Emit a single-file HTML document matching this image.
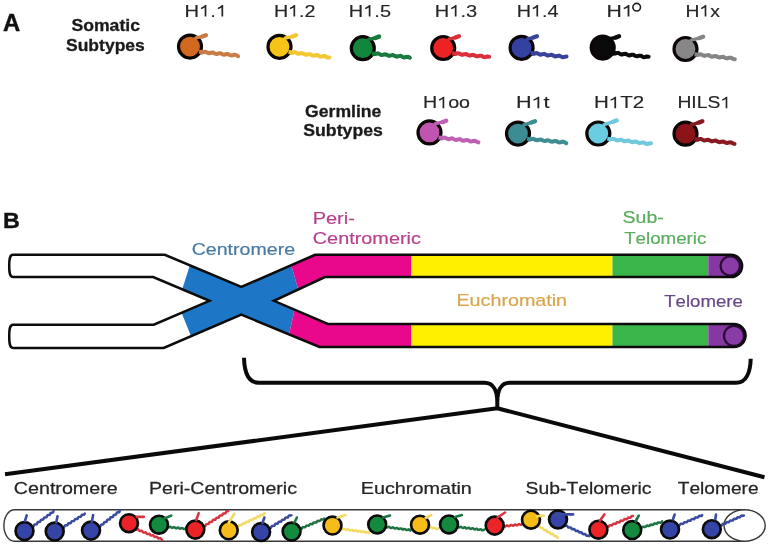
<!DOCTYPE html><html><head><meta charset="utf-8"><style>html,body{margin:0;padding:0;background:#fff;width:768px;height:545px;overflow:hidden}svg{display:block;font-family:"Liberation Sans", sans-serif;font-kerning:none;filter:blur(0.4px)}</style></head><body>
<svg width="768" height="545" viewBox="0 0 768 545">
<rect width="768" height="545" fill="#fff"/>
<g transform="translate(3.01,31.2) scale(1.0369,1)" font-size="23" font-weight="bold" fill="#111" stroke="#111" stroke-width="0.4" stroke-linejoin="round"><text x="0" y="0">A</text></g>
<g transform="translate(71.39,30.9) scale(1.0377,1)" font-size="17" font-weight="bold" fill="#1a1a1a" stroke="#1a1a1a" stroke-width="0.3" stroke-linejoin="round"><text x="0" y="0">Somatic</text></g>
<g transform="translate(65.99,50.7) scale(1.0315,1)" font-size="17" font-weight="bold" fill="#1a1a1a" stroke="#1a1a1a" stroke-width="0.3" stroke-linejoin="round"><text x="0" y="0">Subtypes</text></g>
<g transform="translate(305.08,116.6) scale(1.0371,1)" font-size="17" font-weight="bold" fill="#1a1a1a" stroke="#1a1a1a" stroke-width="0.3" stroke-linejoin="round"><text x="0" y="0">Germline</text></g>
<g transform="translate(303.19,136.1) scale(1.0421,1)" font-size="17" font-weight="bold" fill="#1a1a1a" stroke="#1a1a1a" stroke-width="0.3" stroke-linejoin="round"><text x="0" y="0">Subtypes</text></g>
<g transform="translate(184.54,16.6) scale(1.2087,1)" font-size="16.7" font-weight="normal" fill="#252525" stroke="#252525" stroke-width="0.15" stroke-linejoin="round"><text x="0" y="0">H</text><path transform="translate(12.06,0) scale(0.00815,-0.00815)" d="M 735 0 L 560 0 L 560 1130 Q 420 1010 190 915 L 190 1085 Q 450 1195 610 1409 L 735 1409 Z"/><text x="21.35" y="0">.</text><path transform="translate(25.99,0) scale(0.00815,-0.00815)" d="M 735 0 L 560 0 L 560 1130 Q 420 1010 190 915 L 190 1085 Q 450 1195 610 1409 L 735 1409 Z"/></g>
<g transform="translate(273.88,16.6) scale(1.1795,1)" font-size="16.7" font-weight="normal" fill="#252525" stroke="#252525" stroke-width="0.15" stroke-linejoin="round"><text x="0" y="0">H</text><path transform="translate(12.06,0) scale(0.00815,-0.00815)" d="M 735 0 L 560 0 L 560 1130 Q 420 1010 190 915 L 190 1085 Q 450 1195 610 1409 L 735 1409 Z"/><text x="21.35" y="0">.2</text></g>
<g transform="translate(348.86,16.6) scale(1.1956,1)" font-size="16.7" font-weight="normal" fill="#252525" stroke="#252525" stroke-width="0.15" stroke-linejoin="round"><text x="0" y="0">H</text><path transform="translate(12.06,0) scale(0.00815,-0.00815)" d="M 735 0 L 560 0 L 560 1130 Q 420 1010 190 915 L 190 1085 Q 450 1195 610 1409 L 735 1409 Z"/><text x="21.35" y="0">.5</text></g>
<g transform="translate(434.86,16.6) scale(1.1998,1)" font-size="16.7" font-weight="normal" fill="#252525" stroke="#252525" stroke-width="0.15" stroke-linejoin="round"><text x="0" y="0">H</text><path transform="translate(12.06,0) scale(0.00815,-0.00815)" d="M 735 0 L 560 0 L 560 1130 Q 420 1010 190 915 L 190 1085 Q 450 1195 610 1409 L 735 1409 Z"/><text x="21.35" y="0">.3</text></g>
<g transform="translate(516.67,16.6) scale(1.1880,1)" font-size="16.7" font-weight="normal" fill="#252525" stroke="#252525" stroke-width="0.15" stroke-linejoin="round"><text x="0" y="0">H</text><path transform="translate(12.06,0) scale(0.00815,-0.00815)" d="M 735 0 L 560 0 L 560 1130 Q 420 1010 190 915 L 190 1085 Q 450 1195 610 1409 L 735 1409 Z"/><text x="21.35" y="0">.4</text></g>
<g transform="translate(606.46,16.6) scale(1.2707,1)" font-size="16.7" font-weight="normal" fill="#252525" stroke="#252525" stroke-width="0.15" stroke-linejoin="round"><text x="0" y="0">H</text><path transform="translate(12.06,0) scale(0.00815,-0.00815)" d="M 735 0 L 560 0 L 560 1130 Q 420 1010 190 915 L 190 1085 Q 450 1195 610 1409 L 735 1409 Z"/></g>
<circle cx="636.7" cy="7.2" r="3.8" fill="none" stroke="#1e1e1e" stroke-width="1.6"/>
<g transform="translate(685.41,16.6) scale(1.1581,1)" font-size="16.7" font-weight="normal" fill="#252525" stroke="#252525" stroke-width="0.15" stroke-linejoin="round"><text x="0" y="0">H</text><path transform="translate(12.06,0) scale(0.00815,-0.00815)" d="M 735 0 L 560 0 L 560 1130 Q 420 1010 190 915 L 190 1085 Q 450 1195 610 1409 L 735 1409 Z"/><text x="21.35" y="0">x</text></g>
<g transform="translate(422.99,108.2) scale(1.1783,1)" font-size="16.7" font-weight="normal" fill="#252525" stroke="#252525" stroke-width="0.15" stroke-linejoin="round"><text x="0" y="0">H</text><path transform="translate(12.06,0) scale(0.00815,-0.00815)" d="M 735 0 L 560 0 L 560 1130 Q 420 1010 190 915 L 190 1085 Q 450 1195 610 1409 L 735 1409 Z"/><text x="21.35" y="0">oo</text></g>
<g transform="translate(515.93,108.2) scale(1.2941,1)" font-size="16.7" font-weight="normal" fill="#252525" stroke="#252525" stroke-width="0.15" stroke-linejoin="round"><text x="0" y="0">H</text><path transform="translate(12.06,0) scale(0.00815,-0.00815)" d="M 735 0 L 560 0 L 560 1130 Q 420 1010 190 915 L 190 1085 Q 450 1195 610 1409 L 735 1409 Z"/><text x="21.35" y="0">t</text></g>
<g transform="translate(593.92,108.2) scale(1.2297,1)" font-size="16.7" font-weight="normal" fill="#252525" stroke="#252525" stroke-width="0.15" stroke-linejoin="round"><text x="0" y="0">H</text><path transform="translate(12.06,0) scale(0.00815,-0.00815)" d="M 735 0 L 560 0 L 560 1130 Q 420 1010 190 915 L 190 1085 Q 450 1195 610 1409 L 735 1409 Z"/><text x="21.35" y="0">T2</text></g>
<g transform="translate(677.42,108.2) scale(1.1569,1)" font-size="16.7" font-weight="normal" fill="#252525" stroke="#252525" stroke-width="0.15" stroke-linejoin="round"><text x="0" y="0">HILS</text><path transform="translate(37.13,0) scale(0.00815,-0.00815)" d="M 735 0 L 560 0 L 560 1130 Q 420 1010 190 915 L 190 1085 Q 450 1195 610 1409 L 735 1409 Z"/></g>
<polyline points="199.5,51.8 201.37,52.64 203.38,52.11 205.37,51.73 207.23,52.71 209.11,53.37 211.13,52.72 213.1,52.54 214.95,53.61 216.86,54.07 218.88,53.35 220.84,53.37 222.68,54.5 224.61,54.74 226.64,53.99 228.57,54.23 230.41,55.36 232.36,55.39 234.38,54.66 236.29,55.12 238.14,56.19" fill="none" stroke="#c97c45" stroke-width="4" stroke-linecap="round" stroke-linejoin="round"/>
<circle cx="190" cy="46.6" r="11.5" fill="#d2691f" stroke="#0d0606" stroke-width="3.2"/>
<line x1="195.8" y1="37.8" x2="201.9" y2="36.6" stroke="#c97c45" stroke-width="3.4" stroke-linecap="round"/>
<line x1="202.3" y1="36.5" x2="205.9" y2="35.2" stroke="#c97c45" stroke-width="4.4" stroke-linecap="round"/>
<line x1="199" y1="51.8" x2="203.5" y2="52.3" stroke="#c97c45" stroke-width="4" stroke-linecap="butt"/>
<polyline points="289,52 290.84,52.89 292.85,52.43 294.84,52.11 296.66,53.12 298.51,53.86 300.54,53.29 302.51,53.13 304.32,54.23 306.2,54.81 308.23,54.17 310.18,54.18 311.98,55.34 313.88,55.73 315.92,55.05 317.85,55.24 319.64,56.43 321.57,56.63 323.61,55.95 325.51,56.33 327.31,57.5 329.26,57.52" fill="none" stroke="#f2c832" stroke-width="4" stroke-linecap="round" stroke-linejoin="round"/>
<circle cx="279.5" cy="46.8" r="11.5" fill="#f6c316" stroke="#0d0606" stroke-width="3.2"/>
<line x1="285.3" y1="38" x2="292" y2="36.6" stroke="#f2c832" stroke-width="3.4" stroke-linecap="round"/>
<line x1="292.4" y1="36.5" x2="296" y2="35.2" stroke="#f2c832" stroke-width="4.4" stroke-linecap="round"/>
<line x1="288.5" y1="52" x2="293" y2="52.5" stroke="#f2c832" stroke-width="4" stroke-linecap="butt"/>
<polyline points="372.3,53.4 374.11,54.25 376.06,53.79 378.01,53.37 379.82,54.25 381.63,55.07 383.59,54.58 385.53,54.19 387.33,55.11 389.15,55.89 391.11,55.36 393.05,55.02 394.85,55.96 396.67,56.7 398.63,56.15 400.57,55.84 402.36,56.82 404.19,57.51 406.16,56.93 408.09,56.67 409.88,57.67" fill="none" stroke="#1a7a3e" stroke-width="4" stroke-linecap="round" stroke-linejoin="round"/>
<circle cx="362.8" cy="48.2" r="11.5" fill="#12873b" stroke="#0d0606" stroke-width="3.2"/>
<line x1="368.6" y1="39.4" x2="375.1" y2="38" stroke="#1a7a3e" stroke-width="3.4" stroke-linecap="round"/>
<line x1="375.5" y1="37.9" x2="379.1" y2="36.6" stroke="#1a7a3e" stroke-width="4.4" stroke-linecap="round"/>
<line x1="371.8" y1="53.4" x2="376.3" y2="53.9" stroke="#1a7a3e" stroke-width="4" stroke-linecap="butt"/>
<polyline points="452.7,53.2 454.55,54.05 456.54,53.55 458.52,53.17 460.35,54.13 462.21,54.86 464.21,54.27 466.18,54.02 468,55.06 469.88,55.65 471.89,54.98 473.84,54.88 475.66,55.98 477.55,56.41 479.56,55.71 481.49,55.76 483.31,56.9 485.22,57.17 487.23,56.44 489.15,56.66" fill="none" stroke="#d9303a" stroke-width="4" stroke-linecap="round" stroke-linejoin="round"/>
<circle cx="443.2" cy="48" r="11.5" fill="#ec2224" stroke="#0d0606" stroke-width="3.2"/>
<line x1="449" y1="39.2" x2="454.9" y2="37.6" stroke="#d9303a" stroke-width="3.4" stroke-linecap="round"/>
<line x1="455.3" y1="37.5" x2="458.9" y2="36.2" stroke="#d9303a" stroke-width="4.4" stroke-linecap="round"/>
<line x1="452.2" y1="53.2" x2="456.7" y2="53.7" stroke="#d9303a" stroke-width="4" stroke-linecap="butt"/>
<polyline points="531.1,53 532.89,53.86 534.83,53.43 536.76,53 538.55,53.86 540.34,54.72 542.28,54.29 544.22,53.86 546,54.73 547.79,55.59 549.73,55.15 551.67,54.73 553.46,55.59 555.25,56.45 557.18,56.02 559.12,55.59 560.91,56.46 562.7,57.31 564.64,56.88 566.57,56.45" fill="none" stroke="#3a439a" stroke-width="4" stroke-linecap="round" stroke-linejoin="round"/>
<circle cx="521.6" cy="47.8" r="11.5" fill="#3342a0" stroke="#0d0606" stroke-width="3.2"/>
<line x1="527.4" y1="39" x2="532.9" y2="37.6" stroke="#3a439a" stroke-width="3.4" stroke-linecap="round"/>
<line x1="533.3" y1="37.5" x2="536.9" y2="36.2" stroke="#3a439a" stroke-width="4.4" stroke-linecap="round"/>
<line x1="530.6" y1="53" x2="535.1" y2="53.5" stroke="#3a439a" stroke-width="4" stroke-linecap="butt"/>
<polyline points="612.2,52.8 614.04,53.68 616.04,53.2 618.02,52.86 619.85,53.84 621.7,54.59 623.72,54.01 625.68,53.81 627.5,54.88 629.37,55.48 631.39,54.83 633.34,54.78 635.15,55.92 637.04,56.34 639.07,55.66 641,55.78 642.8,56.94 644.71,57.2 646.74,56.49 648.65,56.78" fill="none" stroke="#0a0a0a" stroke-width="4" stroke-linecap="round" stroke-linejoin="round"/>
<circle cx="602.7" cy="47.6" r="11.5" fill="#0a0a0a" stroke="#0d0606" stroke-width="3.2"/>
<line x1="608.5" y1="38.8" x2="615" y2="37.7" stroke="#0a0a0a" stroke-width="3.4" stroke-linecap="round"/>
<line x1="615.4" y1="37.6" x2="619" y2="36.3" stroke="#0a0a0a" stroke-width="4.4" stroke-linecap="round"/>
<line x1="611.7" y1="52.8" x2="616.2" y2="53.3" stroke="#0a0a0a" stroke-width="4" stroke-linecap="butt"/>
<polyline points="695,54.2 696.83,55.06 698.8,54.59 700.77,54.2 702.59,55.14 704.43,55.91 706.41,55.37 708.37,55.07 710.18,56.07 712.03,56.75 714.02,56.15 715.97,55.95 717.77,57.01 719.63,57.58 721.63,56.93 723.57,56.84 725.37,57.94 727.24,58.4 729.24,57.71 731.16,57.73 732.96,58.86 734.84,59.21" fill="none" stroke="#858585" stroke-width="4" stroke-linecap="round" stroke-linejoin="round"/>
<circle cx="685.5" cy="49" r="11.5" fill="#878787" stroke="#0d0606" stroke-width="3.2"/>
<line x1="691.3" y1="40.2" x2="699.1" y2="38.1" stroke="#858585" stroke-width="3.4" stroke-linecap="round"/>
<line x1="699.5" y1="38" x2="703.1" y2="36.7" stroke="#858585" stroke-width="4.4" stroke-linecap="round"/>
<line x1="694.5" y1="54.2" x2="699" y2="54.7" stroke="#858585" stroke-width="4" stroke-linecap="butt"/>
<polyline points="439,137.6 440.81,138.44 442.76,137.97 444.71,137.54 446.52,138.42 448.34,139.22 450.29,138.72 452.23,138.32 454.04,139.23 455.86,140 457.82,139.47 459.76,139.11 461.56,140.05 463.39,140.77 465.35,140.21 467.28,139.9 469.08,140.86 470.91,141.55 472.87,140.96 474.8,140.68 476.6,141.68 478.44,142.32" fill="none" stroke="#c060b5" stroke-width="4" stroke-linecap="round" stroke-linejoin="round"/>
<circle cx="429.5" cy="132.4" r="11.5" fill="#bf55b0" stroke="#0d0606" stroke-width="3.2"/>
<line x1="435.3" y1="123.6" x2="442.2" y2="122.2" stroke="#c060b5" stroke-width="3.4" stroke-linecap="round"/>
<line x1="442.6" y1="122.1" x2="446.2" y2="120.8" stroke="#c060b5" stroke-width="4.4" stroke-linecap="round"/>
<line x1="438.5" y1="137.6" x2="443" y2="138.1" stroke="#c060b5" stroke-width="4" stroke-linecap="butt"/>
<polyline points="527.5,138.8 529.38,139.64 531.4,139.09 533.4,138.74 535.26,139.73 537.17,140.36 539.19,139.69 541.17,139.55 543.03,140.65 544.95,141.04 546.99,140.3 548.94,140.41 550.79,141.54 552.74,141.69 554.78,140.94 556.71,141.3 558.56,142.41 560.54,142.31 562.57,141.62 564.47,142.21 566.34,143.23" fill="none" stroke="#3f8c92" stroke-width="4" stroke-linecap="round" stroke-linejoin="round"/>
<circle cx="518" cy="133.6" r="11.5" fill="#3c8c93" stroke="#0d0606" stroke-width="3.2"/>
<line x1="523.8" y1="124.8" x2="531" y2="122.6" stroke="#3f8c92" stroke-width="3.4" stroke-linecap="round"/>
<line x1="531.4" y1="122.5" x2="535" y2="121.2" stroke="#3f8c92" stroke-width="4.4" stroke-linecap="round"/>
<line x1="527" y1="138.8" x2="531.5" y2="139.3" stroke="#3f8c92" stroke-width="4" stroke-linecap="butt"/>
<polyline points="607.8,138.7 609.6,139.57 611.56,139.13 613.51,138.73 615.31,139.64 617.11,140.47 619.08,140 621.03,139.64 622.82,140.58 624.63,141.37 626.59,140.87 628.54,140.55 630.33,141.52 632.14,142.27 634.11,141.74 636.05,141.46 637.83,142.46 639.65,143.17 641.63,142.61 643.56,142.37 645.34,143.4 647.17,144.07 649.15,143.48 651.07,143.29" fill="none" stroke="#70c8dc" stroke-width="4" stroke-linecap="round" stroke-linejoin="round"/>
<circle cx="598.3" cy="133.5" r="11.5" fill="#69cce1" stroke="#0d0606" stroke-width="3.2"/>
<line x1="604.1" y1="124.7" x2="612.7" y2="121.8" stroke="#70c8dc" stroke-width="3.4" stroke-linecap="round"/>
<line x1="613.1" y1="121.7" x2="616.7" y2="120.4" stroke="#70c8dc" stroke-width="4.4" stroke-linecap="round"/>
<line x1="607.3" y1="138.7" x2="611.8" y2="139.2" stroke="#70c8dc" stroke-width="4" stroke-linecap="butt"/>
<polyline points="695,138.9 696.81,139.76 698.77,139.29 700.73,138.88 702.54,139.79 704.36,140.59 706.32,140.08 708.27,139.73 710.08,140.67 711.9,141.42 713.87,140.88 715.81,140.57 717.61,141.56 719.44,142.25 721.42,141.67 723.35,141.42 725.15,142.44 726.99,143.08 728.97,142.46 730.9,142.28 732.69,143.33 734.53,143.9" fill="none" stroke="#8a1a22" stroke-width="4" stroke-linecap="round" stroke-linejoin="round"/>
<circle cx="685.5" cy="133.7" r="11.5" fill="#8c1418" stroke="#0d0606" stroke-width="3.2"/>
<line x1="691.3" y1="124.9" x2="698.3" y2="122.7" stroke="#8a1a22" stroke-width="3.4" stroke-linecap="round"/>
<line x1="698.7" y1="122.6" x2="702.3" y2="121.3" stroke="#8a1a22" stroke-width="4.4" stroke-linecap="round"/>
<line x1="694.5" y1="138.9" x2="699" y2="139.4" stroke="#8a1a22" stroke-width="4" stroke-linecap="butt"/>
<g transform="translate(3.04,228.3) scale(1.0212,1)" font-size="22.8" font-weight="bold" fill="#111" stroke="#111" stroke-width="0.4" stroke-linejoin="round"><text x="0" y="0">B</text></g>
<defs><clipPath id="chr"><path d="M 13 254.8 L 164.8 254.8 L 241.3 287.0 L 315.1 254.8 L 731 254.8 A 11.1 11.1 0 0 1 731 277.0 L 325 277.0 L 273.9 300.8 L 327.8 323.9 L 734 323.9 A 11.55 11.55 0 0 1 734 347.0 L 319.5 347.0 L 241.3 314.6 L 163.7 347.9 L 13 347.9 C 9.4 347.9 9.2 342 9.2 336.3 C 9.2 330.6 9.4 324.75 13 324.75 L 153.8 324.75 L 209.5 300.8 L 153.2 277.0 L 13 277.0 C 9.4 277.0 9.2 271.5 9.2 265.9 C 9.2 260.3 9.4 254.8 13 254.8 Z"/></clipPath></defs>
<g clip-path="url(#chr)">
<rect x="0" y="240" width="768" height="120" fill="#fff"/>
<polygon points="197.9,240 284.0,240 301.5,301 296.6,301 283.2,360 200.6,360 176.8,301 178.5,301" fill="#1e77c6"/>
<polygon points="284.0,240 411.5,240 411.5,360 283.2,360 296.6,301 301.5,301" fill="#e9078b"/>
<rect x="411.5" y="240" width="201" height="120" fill="#fff000"/>
<rect x="612.5" y="240" width="95.8" height="120" fill="#39b54a"/>
<rect x="708.3" y="240" width="60" height="120" fill="#8638a2"/>
</g>
<circle cx="730.2" cy="266.0" r="9.6" fill="#8a3ca6" stroke="#2c0c36" stroke-width="2.2"/>
<circle cx="734.0" cy="335.9" r="10.0" fill="#8a3ca6" stroke="#2c0c36" stroke-width="2.2"/>
<path d="M 13 254.8 L 164.8 254.8 L 241.3 287.0 L 315.1 254.8 L 731 254.8 A 11.1 11.1 0 0 1 731 277.0 L 325 277.0 L 273.9 300.8 L 327.8 323.9 L 734 323.9 A 11.55 11.55 0 0 1 734 347.0 L 319.5 347.0 L 241.3 314.6 L 163.7 347.9 L 13 347.9 C 9.4 347.9 9.2 342 9.2 336.3 C 9.2 330.6 9.4 324.75 13 324.75 L 153.8 324.75 L 209.5 300.8 L 153.2 277.0 L 13 277.0 C 9.4 277.0 9.2 271.5 9.2 265.9 C 9.2 260.3 9.4 254.8 13 254.8 Z" fill="none" stroke="#0c0c0c" stroke-width="2.5" stroke-linejoin="miter"/>
<g transform="translate(191.71,254.8) scale(1.1251,1)" font-size="17.4" font-weight="normal" fill="#477aa3" stroke="#477aa3" stroke-width="0.2" stroke-linejoin="round"><text x="0" y="0">Centromere</text></g>
<g transform="translate(312.66,223.6) scale(1.1495,1)" font-size="17.4" font-weight="normal" fill="#b8418e" stroke="#b8418e" stroke-width="0.2" stroke-linejoin="round"><text x="0" y="0">Peri-</text></g>
<g transform="translate(312.79,243.9) scale(1.1411,1)" font-size="17.4" font-weight="normal" fill="#b8418e" stroke="#b8418e" stroke-width="0.2" stroke-linejoin="round"><text x="0" y="0">Centromeric</text></g>
<g transform="translate(456.48,306.3) scale(1.1333,1)" font-size="17.4" font-weight="normal" fill="#daa54c" stroke="#daa54c" stroke-width="0.2" stroke-linejoin="round"><text x="0" y="0">Euchromatin</text></g>
<g transform="translate(622.62,223.4) scale(1.1196,1)" font-size="17.4" font-weight="normal" fill="#5aad5e" stroke="#5aad5e" stroke-width="0.2" stroke-linejoin="round"><text x="0" y="0">Sub-</text></g>
<g transform="translate(624.18,243.7) scale(1.0764,1)" font-size="17.4" font-weight="normal" fill="#5aad5e" stroke="#5aad5e" stroke-width="0.2" stroke-linejoin="round"><text x="0" y="0">Telomeric</text></g>
<g transform="translate(664.18,306.6) scale(1.0701,1)" font-size="17.4" font-weight="normal" fill="#664888" stroke="#664888" stroke-width="0.2" stroke-linejoin="round"><text x="0" y="0">Telomere</text></g>
<path d="M 244 357.8 C 244.3 372 248.5 382.8 259 382.8 L 484.5 382.8 C 493.5 382.8 497.3 391 497.3 402 L 497.3 408.5 M 750.7 358.7 C 750.4 372 746.2 382.8 736 382.8 L 509.5 382.8 C 501 382.8 497.3 391 497.3 402" fill="none" stroke="#0a0a0a" stroke-width="4" stroke-linecap="butt" stroke-linejoin="round"/>
<path d="M 5 474.3 L 497.3 408.3 L 764.5 477.3" fill="none" stroke="#0a0a0a" stroke-width="4" stroke-linecap="butt" stroke-linejoin="round"/>
<g transform="translate(13.8,493.6) scale(1.1449,1)" font-size="17.2" font-weight="normal" fill="#252525" stroke="#252525" stroke-width="0.25" stroke-linejoin="round"><text x="0" y="0">Centromere</text></g>
<g transform="translate(148.99,493.6) scale(1.1388,1)" font-size="17.2" font-weight="normal" fill="#252525" stroke="#252525" stroke-width="0.25" stroke-linejoin="round"><text x="0" y="0">Peri-Centromeric</text></g>
<g transform="translate(360.67,493.6) scale(1.1518,1)" font-size="17.2" font-weight="normal" fill="#252525" stroke="#252525" stroke-width="0.25" stroke-linejoin="round"><text x="0" y="0">Euchromatin</text></g>
<g transform="translate(525.62,493.6) scale(1.1257,1)" font-size="17.2" font-weight="normal" fill="#252525" stroke="#252525" stroke-width="0.25" stroke-linejoin="round"><text x="0" y="0">Sub-Telomeric</text></g>
<g transform="translate(677.77,493.6) scale(1.1134,1)" font-size="17.2" font-weight="normal" fill="#252525" stroke="#252525" stroke-width="0.25" stroke-linejoin="round"><text x="0" y="0">Telomere</text></g>
<path d="M 14.5 509.8 L 744.6 509.8 M 14.5 541.3 L 744.6 541.3 M 14.5 509.8 A 10.6 15.75 0 0 0 14.5 541.3" fill="none" stroke="#383838" stroke-width="1.4"/>
<ellipse cx="744.6" cy="525.5" rx="20.6" ry="15.7" fill="#fff" stroke="#383838" stroke-width="1.4"/>
<polyline points="32.3,526.7 33.45,526.55 33.94,525.49 34.46,524.48 35.64,524.38 36.75,524.18 37.21,523.07 37.77,522.11 38.98,522.06 40.05,521.8 40.48,520.66 41.09,519.76 42.32,519.73 43.35,519.42 43.76,518.24 44.41,517.4 45.66,517.41 46.64,517.03 47.04,515.83 47.73,515.06 49,515.08 49.94,514.64 50.31,513.42 51.06,512.71 52.34,512.75 53.22,512.24 53.59,511.01" fill="none" stroke="#3a4aa0" stroke-width="2.5" stroke-linecap="round" stroke-linejoin="round"/>
<polyline points="62.75,527.5 63.89,527.43 64.44,526.43 65,525.43 66.15,525.37 67.28,525.29 67.83,524.28 68.39,523.29 69.54,523.24 70.68,523.15 71.22,522.14 71.79,521.15 72.94,521.11 74.07,521.01 74.61,519.99 75.18,519.02 76.34,518.98 77.46,518.88 77.99,517.84 78.57,516.88 79.73,516.84 80.85,516.74 81.38,515.7 81.96,514.74 83.13,514.71 84.24,514.6 84.77,513.55" fill="none" stroke="#3a4aa0" stroke-width="2.5" stroke-linecap="round" stroke-linejoin="round"/>
<polyline points="99,526.9 100.13,526.73 100.59,525.69 101.05,524.64 102.18,524.47 103.31,524.3 103.77,523.26 104.23,522.21 105.36,522.04 106.48,521.87 106.94,520.83 107.4,519.78 108.53,519.61 109.66,519.44 110.12,518.4 110.58,517.35 111.71,517.18 112.84,517.01 113.3,515.97 113.76,514.92 114.89,514.75 116.02,514.58 116.48,513.54 116.94,512.49 118.07,512.32 119.2,512.15 119.65,511.11 120.12,510.06" fill="none" stroke="#3a4aa0" stroke-width="2.5" stroke-linecap="round" stroke-linejoin="round"/>
<polyline points="135.25,528.75 135.98,529.63 137.12,529.49 138.25,529.35 138.98,530.24 139.71,531.11 140.85,530.96 141.98,530.83 142.7,531.74 143.44,532.6 144.59,532.43 145.71,532.32 146.43,533.23 147.17,534.08 148.33,533.9 149.44,533.8 150.16,534.73 150.9,535.56 152.06,535.37 153.17,535.29 153.88,536.22 154.64,537.04 155.8,536.84 156.9,536.77 157.61,537.72 158.37,538.52 159.53,538.31 160.64,538.25 161.33,539.21 162.1,540" fill="none" stroke="#d83440" stroke-width="2.5" stroke-linecap="round" stroke-linejoin="round"/>
<polyline points="167.1,526.9 168.08,527.55 169.17,527.05 170.25,526.68 171.21,527.45 172.2,527.95 173.31,527.34 174.37,527.13 175.33,527.99 176.34,528.32 177.45,527.65 178.49,527.62 179.44,528.51 180.47,528.67 181.58,527.98 182.61,528.13 183.56,529.02 184.61,528.99 185.72,528.32 186.73,528.65" fill="none" stroke="#1d7442" stroke-width="2.5" stroke-linecap="round" stroke-linejoin="round"/>
<polyline points="204,526.25 205.15,526.17 205.7,525.15 206.27,524.16 207.44,524.12 208.57,524.01 209.1,522.95 209.7,522 210.89,521.99 211.99,521.84 212.5,520.75 213.12,519.84 214.33,519.86 215.4,519.67 215.9,518.55 216.55,517.69 217.77,517.73 218.82,517.49 219.3,516.35 219.98,515.53 221.22,515.6 222.23,515.32 222.7,514.16 223.41,513.38 224.66,513.47 225.65,513.14 226.1,511.96 226.84,511.24 228.1,511.34" fill="none" stroke="#d83440" stroke-width="2.5" stroke-linecap="round" stroke-linejoin="round"/>
<polyline points="236.5,526.9 237.65,526.97 238.32,526.03 239,525.12 240.16,525.21 241.3,525.25 241.96,524.29 242.66,523.4 243.83,523.52 244.95,523.53 245.6,522.54 246.31,521.69 247.49,521.83 248.6,521.81 249.24,520.8 249.96,519.98 251.16,520.14 252.25,520.09 252.88,519.06 253.62,518.27 254.82,518.45 255.9,518.37 256.51,517.31 257.27,516.56 258.48,516.76 259.54,516.64 260.15,515.57 260.93,514.85 262.15,515.07 263.19,514.92 263.79,513.83 264.59,513.15" fill="none" stroke="#f2da66" stroke-width="2.5" stroke-linecap="round" stroke-linejoin="round"/>
<polyline points="269.6,528 270.75,527.95 271.31,526.94 271.89,525.96 273.05,525.92 274.19,525.85 274.74,524.82 275.33,523.86 276.51,523.85 277.62,523.75 278.17,522.71 278.78,521.77 279.96,521.77 281.06,521.65 281.6,520.59 282.22,519.68 283.41,519.7 284.5,519.55 285.02,518.47 285.66,517.58 286.86,517.62 287.94,517.45 288.45,516.36 289.1,515.49 290.32,515.55 291.38,515.35" fill="none" stroke="#3a4aa0" stroke-width="2.5" stroke-linecap="round" stroke-linejoin="round"/>
<polyline points="300.25,528.75 301.39,528.87 302.09,527.97 302.8,527.07 303.94,527.19 305.07,527.3 305.78,526.41 306.48,525.51 307.62,525.63 308.75,525.74 309.46,524.84 310.17,523.95 311.31,524.07 312.44,524.18 313.14,523.28 313.85,522.39 314.99,522.51 316.12,522.62 316.83,521.72 317.54,520.83 318.68,520.95 319.81,521.06 320.51,520.15 321.22,519.26 322.36,519.39 323.49,519.5 324.2,518.59" fill="none" stroke="#1d7442" stroke-width="2.5" stroke-linecap="round" stroke-linejoin="round"/>
<polyline points="340.9,528.75 341.84,529.43 342.93,528.99 344.01,528.62 344.93,529.37 345.88,529.98 346.98,529.47 348.05,529.18 348.97,529.99 349.93,530.51 351.03,529.96 352.09,529.75 353,530.6 353.97,531.04 355.08,530.44 356.13,530.33 357.04,531.21 358.02,531.56 359.13,530.93 360.16,530.91 361.07,531.82 362.07,532.07 363.18,531.43 364.2,531.5 365.11,532.42 366.12,532.57 367.23,531.93 368.24,532.1 369.14,533.02" fill="none" stroke="#f2da66" stroke-width="2.5" stroke-linecap="round" stroke-linejoin="round"/>
<polyline points="385.9,526.9 386.85,527.58 387.95,527.11 389.04,526.76 389.98,527.54 390.95,528.1 392.06,527.54 393.13,527.32 394.06,528.18 395.04,528.59 396.16,527.97 397.21,527.9 398.14,528.81 399.14,529.07 400.27,528.42 401.3,528.5 402.22,529.42 403.24,529.53 404.37,528.88 405.38,529.11 406.3,530.02 407.35,529.98 408.47,529.35 409.46,529.74 410.38,530.61" fill="none" stroke="#1d7442" stroke-width="2.5" stroke-linecap="round" stroke-linejoin="round"/>
<polyline points="427.75,526.9 428.64,527.62 429.72,527.26 430.81,526.9 431.69,527.64 432.58,528.35 433.67,527.98 434.75,527.63 435.64,528.37 436.53,529.08 437.62,528.69 438.7,528.36" fill="none" stroke="#f2da66" stroke-width="2.5" stroke-linecap="round" stroke-linejoin="round"/>
<polyline points="457.75,526.9 458.7,527.57 459.79,527.1 460.87,526.73 461.81,527.48 462.77,528.05 463.87,527.51 464.93,527.24 465.87,528.05 466.84,528.52 467.95,527.92 469,527.76 469.93,528.62 470.92,528.98 472.03,528.34 473.06,528.29 473.99,529.19 474.99,529.42 476.1,528.76 477.13,528.83 478.05,529.74 479.07,529.86 480.18,529.2 481.19,529.39 482.11,530.29 483.15,530.29 484.26,529.64" fill="none" stroke="#1d7442" stroke-width="2.5" stroke-linecap="round" stroke-linejoin="round"/>
<polyline points="504,526.25 505.08,526.69 506.03,525.99 506.99,525.37 508.08,525.88 509.14,526.23 510.09,525.47 511.06,524.94 512.15,525.52 513.21,525.77 514.15,524.95 515.13,524.52 516.22,525.14 517.27,525.29 518.2,524.43 519.2,524.11 520.3,524.77 521.33,524.81 522.26,523.92" fill="none" stroke="#d83440" stroke-width="2.5" stroke-linecap="round" stroke-linejoin="round"/>
<polyline points="536.5,525 537.12,526 538.32,526 539.46,526.11 540.01,527.21 540.7,528.08 541.96,527.99 543.01,528.24 543.53,529.41 544.3,530.14 545.59,529.99 546.56,530.39 547.05,531.6 547.91,532.17 549.21,532.01 550.09,532.57 550.58,533.78 551.54,534.19 552.83,534.04 553.61,534.76 554.12,535.93 555.17,536.19 556.43,536.1 557.13,536.96 557.68,538.07" fill="none" stroke="#f2da66" stroke-width="2.5" stroke-linecap="round" stroke-linejoin="round"/>
<polyline points="564,525 564.71,525.92 565.88,525.81 567.03,525.77 567.7,526.77 568.44,527.6 569.65,527.42 570.75,527.47 571.4,528.53 572.19,529.27 573.42,529.03 574.47,529.19 575.1,530.29 575.93,530.93 577.18,530.66 578.19,530.91 578.8,532.04 579.69,532.58 580.94,532.28 581.9,532.65 582.51,533.79 583.44,534.21 584.7,533.91 585.61,534.39 586.22,535.53 587.2,535.84 588.46,535.56 589.32,536.14" fill="none" stroke="#3a4aa0" stroke-width="2.5" stroke-linecap="round" stroke-linejoin="round"/>
<polyline points="607.1,526.9 608.24,527.02 608.95,526.13 609.66,525.24 610.79,525.36 611.93,525.48 612.64,524.58 613.35,523.69 614.49,523.82 615.62,523.94 616.33,523.04 617.04,522.15 618.18,522.28 619.31,522.39 620.02,521.49 620.74,520.61 621.87,520.74 623.01,520.85 623.71,519.95 624.43,519.06 625.57,519.19 626.7,519.31 627.41,518.4 628.12,517.52 629.26,517.65 630.39,517.76 631.1,516.86 631.81,515.98 632.96,516.11" fill="none" stroke="#d83440" stroke-width="2.5" stroke-linecap="round" stroke-linejoin="round"/>
<polyline points="640.25,528 641.4,528.24 642.23,527.36 643.11,526.63 644.3,527 645.4,527.08 646.21,526.09 647.13,525.54 648.34,525.99 649.4,525.88 650.18,524.84 651.16,524.48 652.38,524.97 653.38,524.65 654.16,523.6 655.2,523.45 656.42,523.91 657.35,523.4 658.15,522.4 659.25,522.43 660.44,522.83 661.33,522.14 662.15,521.23" fill="none" stroke="#1d7442" stroke-width="2.5" stroke-linecap="round" stroke-linejoin="round"/>
<polyline points="678.2,525.4 679.34,525.51 680.04,524.6 680.75,523.71 681.9,523.83 683.03,523.92 683.73,523 684.44,522.12 685.6,522.26 686.72,522.34 687.42,521.4 688.14,520.54 689.3,520.69 690.42,520.75 691.1,519.8 691.83,518.96 692.99,519.12 694.11,519.17 694.79,518.21 695.52,517.37 696.69,517.55 697.8,517.58 698.47,516.61 699.22,515.79 700.39,515.98 701.49,515.99 702.16,515.01" fill="none" stroke="#3a4aa0" stroke-width="2.5" stroke-linecap="round" stroke-linejoin="round"/>
<polyline points="720.4,525.4 721.55,525.49 722.25,524.55 722.97,523.66 724.15,523.81 725.28,523.84 725.95,522.84 726.71,522.02 727.91,522.22 729,522.18 729.65,521.13 730.44,520.39 731.66,520.63 732.72,520.51 733.36,519.43 734.18,518.77 735.41,519.04 736.44,518.84 737.06,517.73 737.92,517.15 739.17,517.44 740.15,517.16 740.77,516.03 741.66,515.53 742.91,515.84 743.86,515.47" fill="none" stroke="#3a4aa0" stroke-width="2.5" stroke-linecap="round" stroke-linejoin="round"/>
<circle cx="24.5" cy="531" r="8.95" fill="#3544a6" stroke="#0b0b0b" stroke-width="2.65"/>
<circle cx="54.7" cy="531.5" r="8.95" fill="#3544a6" stroke="#0b0b0b" stroke-width="2.65"/>
<circle cx="91" cy="530.6" r="8.95" fill="#3544a6" stroke="#0b0b0b" stroke-width="2.65"/>
<circle cx="129" cy="523.2" r="8.95" fill="#ec2428" stroke="#0b0b0b" stroke-width="2.65"/>
<circle cx="159" cy="524.7" r="8.95" fill="#138a3e" stroke="#0b0b0b" stroke-width="2.65"/>
<circle cx="195.3" cy="529.6" r="8.95" fill="#ec2428" stroke="#0b0b0b" stroke-width="2.65"/>
<circle cx="228.75" cy="530.3" r="8.95" fill="#f6bc18" stroke="#0b0b0b" stroke-width="2.65"/>
<circle cx="261.1" cy="532" r="8.95" fill="#3544a6" stroke="#0b0b0b" stroke-width="2.65"/>
<circle cx="291.6" cy="531.6" r="8.95" fill="#138a3e" stroke="#0b0b0b" stroke-width="2.65"/>
<circle cx="332.5" cy="525.5" r="8.95" fill="#f6bc18" stroke="#0b0b0b" stroke-width="2.65"/>
<circle cx="377.2" cy="524.4" r="8.95" fill="#138a3e" stroke="#0b0b0b" stroke-width="2.65"/>
<circle cx="420" cy="524.7" r="8.95" fill="#f6bc18" stroke="#0b0b0b" stroke-width="2.65"/>
<circle cx="449" cy="524.4" r="8.95" fill="#138a3e" stroke="#0b0b0b" stroke-width="2.65"/>
<circle cx="494.7" cy="525.6" r="8.95" fill="#ec2428" stroke="#0b0b0b" stroke-width="2.65"/>
<circle cx="531" cy="519.7" r="8.95" fill="#f6bc18" stroke="#0b0b0b" stroke-width="2.65"/>
<circle cx="558" cy="519.4" r="8.95" fill="#3544a6" stroke="#0b0b0b" stroke-width="2.65"/>
<circle cx="598.4" cy="529.7" r="8.95" fill="#ec2428" stroke="#0b0b0b" stroke-width="2.65"/>
<circle cx="632.2" cy="530" r="8.95" fill="#138a3e" stroke="#0b0b0b" stroke-width="2.65"/>
<circle cx="670" cy="529.5" r="8.95" fill="#3544a6" stroke="#0b0b0b" stroke-width="2.65"/>
<circle cx="711.8" cy="529.2" r="8.95" fill="#3544a6" stroke="#0b0b0b" stroke-width="2.65"/>
<line x1="25" y1="520.8" x2="26.7" y2="515.4" stroke="#3a4aa0" stroke-width="2.6" stroke-linecap="round"/>
<line x1="56.25" y1="522.5" x2="57.5" y2="516.25" stroke="#3a4aa0" stroke-width="2.6" stroke-linecap="round"/>
<line x1="91.9" y1="521.9" x2="93.1" y2="515" stroke="#3a4aa0" stroke-width="2.6" stroke-linecap="round"/>
<line x1="136.9" y1="516.9" x2="143.75" y2="516.9" stroke="#d83440" stroke-width="2.6" stroke-linecap="round"/>
<line x1="163.75" y1="518.75" x2="171.25" y2="515.6" stroke="#1d7442" stroke-width="2.6" stroke-linecap="round"/>
<line x1="196.25" y1="520" x2="198.75" y2="513.1" stroke="#d83440" stroke-width="2.6" stroke-linecap="round"/>
<line x1="228.75" y1="522.5" x2="234.4" y2="513.75" stroke="#f2da66" stroke-width="2.6" stroke-linecap="round"/>
<line x1="262.5" y1="523" x2="264.4" y2="517.5" stroke="#3a4aa0" stroke-width="2.6" stroke-linecap="round"/>
<line x1="294.4" y1="522.5" x2="296.9" y2="517.5" stroke="#1d7442" stroke-width="2.6" stroke-linecap="round"/>
<line x1="337.5" y1="517.5" x2="345.6" y2="515" stroke="#f2da66" stroke-width="2.6" stroke-linecap="round"/>
<line x1="383" y1="517.5" x2="390" y2="515.6" stroke="#1d7442" stroke-width="2.6" stroke-linecap="round"/>
<line x1="425.6" y1="518" x2="431.25" y2="515" stroke="#f2da66" stroke-width="2.6" stroke-linecap="round"/>
<line x1="455" y1="516.9" x2="461.9" y2="515" stroke="#1d7442" stroke-width="2.6" stroke-linecap="round"/>
<line x1="497.5" y1="517.5" x2="505" y2="512.5" stroke="#d83440" stroke-width="2.6" stroke-linecap="round"/>
<line x1="536.9" y1="516.25" x2="543.75" y2="515.6" stroke="#f2da66" stroke-width="2.6" stroke-linecap="round"/>
<line x1="555.6" y1="514.4" x2="573.1" y2="514.4" stroke="#3a4aa0" stroke-width="2.6" stroke-linecap="round"/>
<line x1="600" y1="520.6" x2="604.4" y2="514.4" stroke="#d83440" stroke-width="2.6" stroke-linecap="round"/>
<line x1="635.6" y1="521.25" x2="638.75" y2="515.6" stroke="#1d7442" stroke-width="2.6" stroke-linecap="round"/>
<line x1="673" y1="519.2" x2="674.6" y2="514.6" stroke="#3a4aa0" stroke-width="2.6" stroke-linecap="round"/>
<line x1="715.3" y1="519.2" x2="716" y2="514.6" stroke="#3a4aa0" stroke-width="2.6" stroke-linecap="round"/>
</svg></body></html>
